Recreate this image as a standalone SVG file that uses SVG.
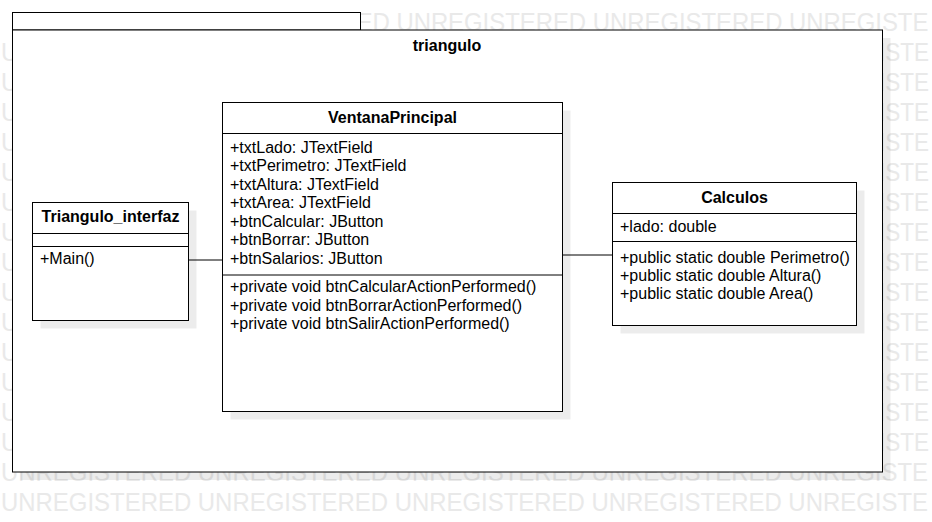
<svg xmlns="http://www.w3.org/2000/svg" width="932" height="522" viewBox="0 0 932 522">
<style>
.wm{font-family:"Liberation Sans",Arial,sans-serif;font-size:25px;fill:#e9e9e9}
.box{fill:#ffffff;stroke:#000000;stroke-width:1}
.shadow{fill:#000000;fill-opacity:0.075}
.div{stroke:#000000;stroke-width:1;fill:none}
.t{font-family:"Liberation Sans",Arial,Helvetica,sans-serif;font-size:16px;fill:#000000}
.b{font-family:"Liberation Sans",Arial,Helvetica,sans-serif;font-size:16px;font-weight:bold;fill:#000000;text-anchor:middle}
.edge{stroke:#000000;stroke-width:1;fill:none}
</style>
<rect x="0" y="0" width="932" height="522" fill="#ffffff"/>
<g id="watermark">
<text class="wm" x="356.4" y="31" textLength="33.4" lengthAdjust="spacingAndGlyphs">ED</text>
<text class="wm" x="396.4" y="31" textLength="532" lengthAdjust="spacingAndGlyphs">UNREGISTERED UNREGISTERED UNREGISTE</text>
<text class="wm" x="1" y="61" textLength="17.4" lengthAdjust="spacingAndGlyphs">U</text>
<text class="wm" x="879" y="61" textLength="50" lengthAdjust="spacingAndGlyphs">ISTE</text>
<text class="wm" x="1" y="91" textLength="17.4" lengthAdjust="spacingAndGlyphs">U</text>
<text class="wm" x="879" y="91" textLength="50" lengthAdjust="spacingAndGlyphs">ISTE</text>
<text class="wm" x="1" y="121" textLength="17.4" lengthAdjust="spacingAndGlyphs">U</text>
<text class="wm" x="879" y="121" textLength="50" lengthAdjust="spacingAndGlyphs">ISTE</text>
<text class="wm" x="1" y="151" textLength="17.4" lengthAdjust="spacingAndGlyphs">U</text>
<text class="wm" x="879" y="151" textLength="50" lengthAdjust="spacingAndGlyphs">ISTE</text>
<text class="wm" x="1" y="181" textLength="17.4" lengthAdjust="spacingAndGlyphs">U</text>
<text class="wm" x="879" y="181" textLength="50" lengthAdjust="spacingAndGlyphs">ISTE</text>
<text class="wm" x="1" y="211" textLength="17.4" lengthAdjust="spacingAndGlyphs">U</text>
<text class="wm" x="879" y="211" textLength="50" lengthAdjust="spacingAndGlyphs">ISTE</text>
<text class="wm" x="1" y="241" textLength="17.4" lengthAdjust="spacingAndGlyphs">U</text>
<text class="wm" x="879" y="241" textLength="50" lengthAdjust="spacingAndGlyphs">ISTE</text>
<text class="wm" x="1" y="271" textLength="17.4" lengthAdjust="spacingAndGlyphs">U</text>
<text class="wm" x="879" y="271" textLength="50" lengthAdjust="spacingAndGlyphs">ISTE</text>
<text class="wm" x="1" y="301" textLength="17.4" lengthAdjust="spacingAndGlyphs">U</text>
<text class="wm" x="879" y="301" textLength="50" lengthAdjust="spacingAndGlyphs">ISTE</text>
<text class="wm" x="1" y="331" textLength="17.4" lengthAdjust="spacingAndGlyphs">U</text>
<text class="wm" x="879" y="331" textLength="50" lengthAdjust="spacingAndGlyphs">ISTE</text>
<text class="wm" x="1" y="361" textLength="17.4" lengthAdjust="spacingAndGlyphs">U</text>
<text class="wm" x="879" y="361" textLength="50" lengthAdjust="spacingAndGlyphs">ISTE</text>
<text class="wm" x="1" y="391" textLength="17.4" lengthAdjust="spacingAndGlyphs">U</text>
<text class="wm" x="879" y="391" textLength="50" lengthAdjust="spacingAndGlyphs">ISTE</text>
<text class="wm" x="1" y="421" textLength="17.4" lengthAdjust="spacingAndGlyphs">U</text>
<text class="wm" x="879" y="421" textLength="50" lengthAdjust="spacingAndGlyphs">ISTE</text>
<text class="wm" x="1" y="451" textLength="17.4" lengthAdjust="spacingAndGlyphs">U</text>
<text class="wm" x="879" y="451" textLength="50" lengthAdjust="spacingAndGlyphs">ISTE</text>
<text class="wm" x="1" y="481" textLength="927" lengthAdjust="spacingAndGlyphs">UNREGISTERED UNREGISTERED UNREGISTERED UNREGISTERED UNREGISTE</text>
<text class="wm" x="1" y="511" textLength="927" lengthAdjust="spacingAndGlyphs">UNREGISTERED UNREGISTERED UNREGISTERED UNREGISTERED UNREGISTE</text>
</g>
<g id="package-triangulo">
<rect class="shadow" x="20.5" y="38" width="870" height="442"/>
<rect class="box" x="12.5" y="12.5" width="348" height="17.5"/>
<rect class="box" x="12.5" y="30" width="870" height="442"/>
<text class="b" x="447" y="51">triangulo</text>
</g>
<g id="connectors">
<line class="edge" x1="188.5" y1="260" x2="222.5" y2="260"/>
<line class="edge" x1="562.5" y1="255" x2="612.5" y2="255"/>
</g>
<g id="Triangulo_interfaz">
<rect class="shadow" x="40.5" y="210.5" width="156" height="118"/>
<rect class="box" x="32.5" y="202.5" width="156" height="118"/>
<line class="div" x1="32.5" y1="233.5" x2="188.5" y2="233.5"/>
<line class="div" x1="32.5" y1="246.5" x2="188.5" y2="246.5"/>
<text class="b" x="110.5" y="222">Triangulo_interfaz</text>
<text class="t" x="40" y="264">+Main()</text>
</g>
<g id="VentanaPrincipal">
<rect class="shadow" x="230.5" y="110.5" width="340" height="309"/>
<rect class="box" x="222.5" y="102.5" width="340" height="309"/>
<line class="div" x1="222.5" y1="133.5" x2="562.5" y2="133.5"/>
<line class="div" x1="222.5" y1="275" x2="562.5" y2="275"/>
<text class="b" x="392.5" y="123">VentanaPrincipal</text>
<text class="t" x="230" y="152.5">+txtLado: JTextField</text>
<text class="t" x="230" y="171">+txtPerimetro: JTextField</text>
<text class="t" x="230" y="189.5">+txtAltura: JTextField</text>
<text class="t" x="230" y="208">+txtArea: JTextField</text>
<text class="t" x="230" y="226.5">+btnCalcular: JButton</text>
<text class="t" x="230" y="245">+btnBorrar: JButton</text>
<text class="t" x="230" y="263.5">+btnSalarios: JButton</text>
<text class="t" x="230" y="292">+private void btnCalcularActionPerformed()</text>
<text class="t" x="230" y="310.5">+private void btnBorrarActionPerformed()</text>
<text class="t" x="230" y="329">+private void btnSalirActionPerformed()</text>
</g>
<g id="Calculos">
<rect class="shadow" x="620.5" y="190.5" width="244" height="143"/>
<rect class="box" x="612.5" y="182.5" width="244" height="143"/>
<line class="div" x1="612.5" y1="213.5" x2="856.5" y2="213.5"/>
<line class="div" x1="612.5" y1="241.5" x2="856.5" y2="241.5"/>
<text class="b" x="734.5" y="202.5">Calculos</text>
<text class="t" x="620" y="232">+lado: double</text>
<text class="t" x="620" y="262.5">+public static double Perimetro()</text>
<text class="t" x="620" y="280.8">+public static double Altura()</text>
<text class="t" x="620" y="299">+public static double Area()</text>
</g>
</svg>
